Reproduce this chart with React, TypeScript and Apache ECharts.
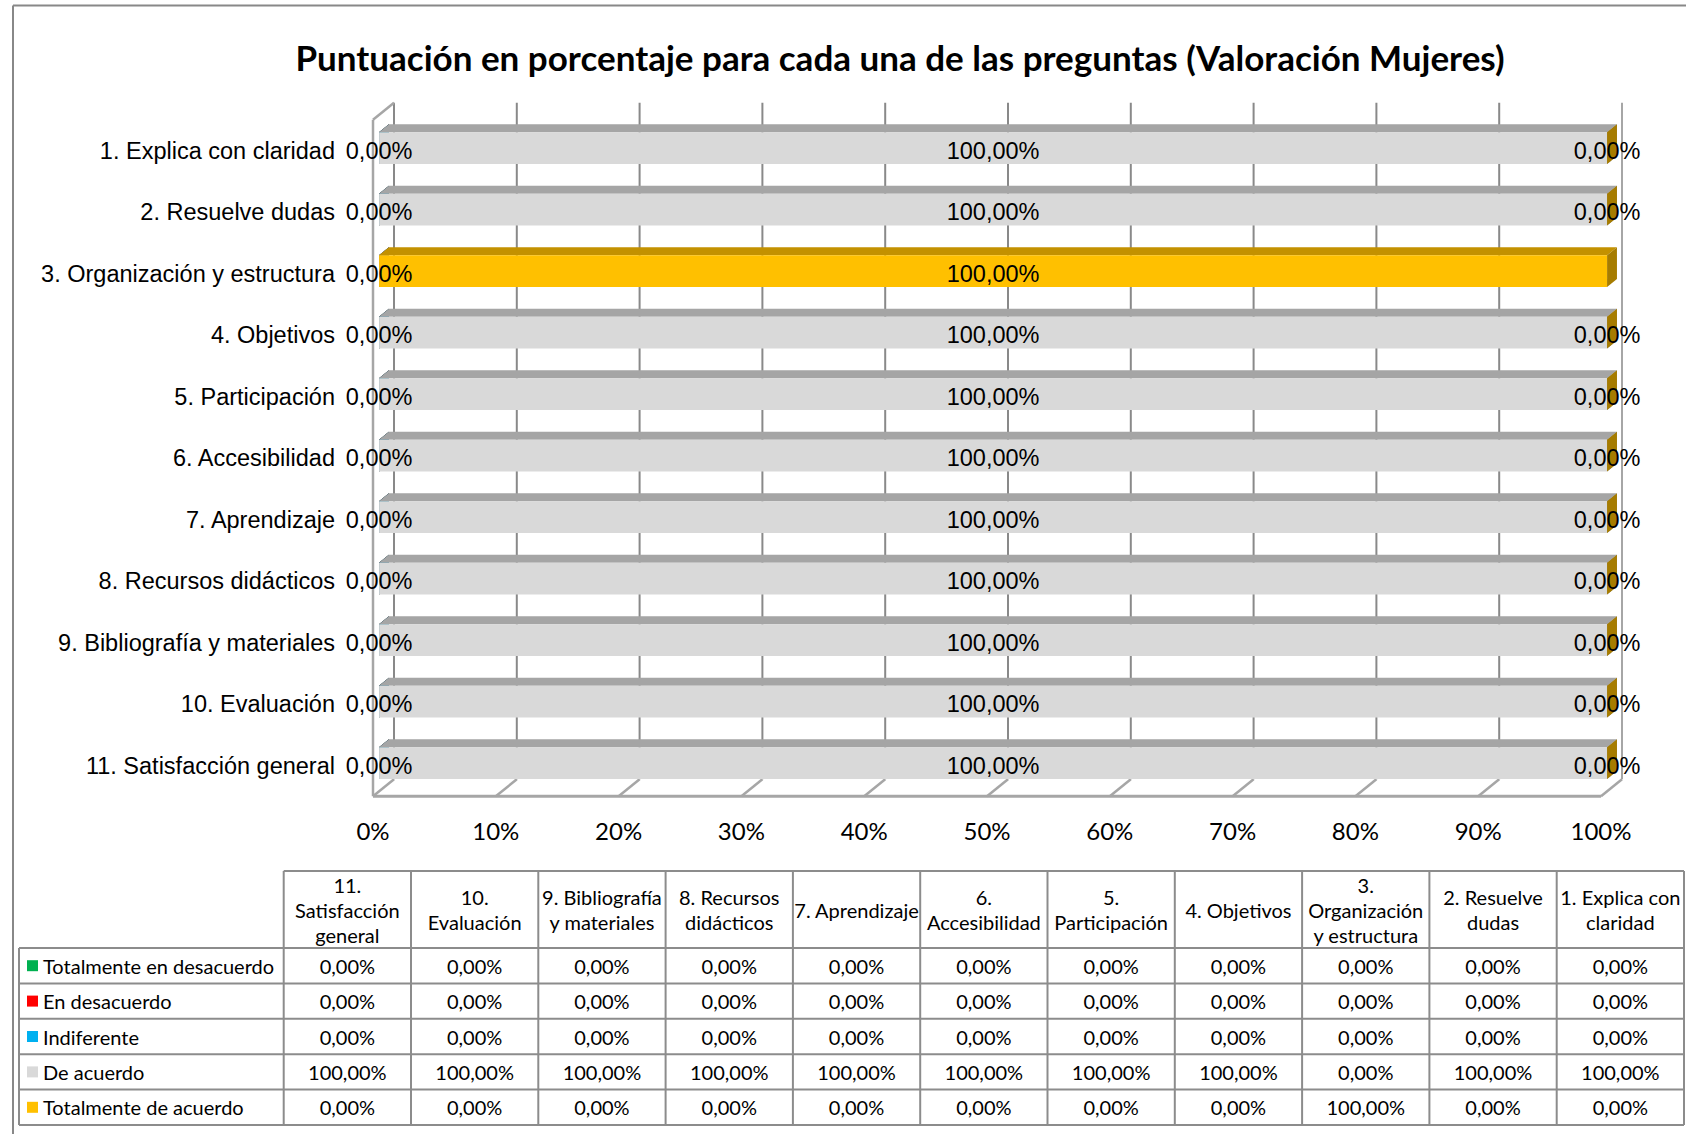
import React, { useEffect, useRef } from "react";
import * as echarts from "echarts";

// ---------- DATA ----------
const categories = [
  "1. Explica con claridad",
  "2. Resuelve dudas",
  "3. Organización y estructura",
  "4. Objetivos",
  "5. Participación",
  "6. Accesibilidad",
  "7. Aprendizaje",
  "8. Recursos didácticos",
  "9. Bibliografía y materiales",
  "10. Evaluación",
  "11. Satisfacción general",
];
// wrapped labels used in the data table header (same order as categories)
const tableHeaderLabels = [
  "1. Explica con\nclaridad",
  "2. Resuelve\ndudas",
  "3.\nOrganización\ny estructura",
  "4. Objetivos",
  "5.\nParticipación",
  "6.\nAccesibilidad",
  "7. Aprendizaje",
  "8. Recursos\ndidácticos",
  "9. Bibliografía\ny materiales",
  "10.\nEvaluación",
  "11.\nSatisfacción\ngeneral",
];
const seriesNames = [
  "Totalmente en desacuerdo",
  "En desacuerdo",
  "Indiferente",
  "De acuerdo",
  "Totalmente de acuerdo",
];
const totalmenteEnDesacuerdo = [0, 0, 0, 0, 0, 0, 0, 0, 0, 0, 0];
const enDesacuerdo = [0, 0, 0, 0, 0, 0, 0, 0, 0, 0, 0];
const indiferente = [0, 0, 0, 0, 0, 0, 0, 0, 0, 0, 0];
const deAcuerdo = [1, 1, 0, 1, 1, 1, 1, 1, 1, 1, 1];
const totalmenteDeAcuerdo = [0, 0, 1, 0, 0, 0, 0, 0, 0, 0, 0];
const seriesValues = [totalmenteEnDesacuerdo, enDesacuerdo, indiferente, deAcuerdo, totalmenteDeAcuerdo];
const xTicks = [0, 0.1, 0.2, 0.3, 0.4, 0.5, 0.6, 0.7, 0.8, 0.9, 1];

// ---------- STYLE ----------
const seriesColors = [
  { front: "#00B050", top: "#008A3E", side: "#006B30" },
  { front: "#FF0000", top: "#C00000", side: "#A00000" },
  { front: "#00B0F0", top: "#0088BB", side: "#006E96" },
  { front: "#D9D9D9", top: "#A5A5A5", side: "#8C8C8C" },
  { front: "#FFC000", top: "#C39100", side: "#A67C00" },
];
const ARIAL = '"Liberation Sans", Arial, sans-serif';
const CALIBRI = 'Lato, "Open Sans", sans-serif';
const DX = 21;
const DY = 17;
const FRONT_DEPTH = 0.29;
const BACK_DEPTH = 0.76;

const fmt = (v: number) => (v * 100).toFixed(2).replace(".", ",") + "%";

// is there an earlier segment in the same category whose label sits at the same spot?
function labelHidden(k: number, cat: number) {
  const startOf = (j: number) => {
    let s = 0;
    for (let m = 0; m < j; m++) s += seriesValues[m][cat];
    return s;
  };
  const mid = (j: number) => startOf(j) + seriesValues[j][cat] / 2;
  for (let j = 0; j < k; j++) {
    if (Math.abs(mid(j) - mid(k)) < 1e-9 && seriesValues[j][cat] === seriesValues[k][cat]) return true;
  }
  return false;
}

function barRender(k: number) {
  const colors = seriesColors[k];
  return (params: any, api: any) => {
    const cat = api.value(0);
    const s = api.value(1);
    const e = api.value(2);
    const p0 = api.coord([s, cat]);
    const p1 = api.coord([e, cat]);
    const band = api.size([0, 1])[1];
    const h = band * 0.515;
    const yT = p0[1] + 2.5 - h / 2;
    const yB = yT + h;
    const fx = DX * FRONT_DEPTH, fy = -DY * FRONT_DEPTH;
    const bx = DX * BACK_DEPTH, by = -DY * BACK_DEPTH;
    const x0 = p0[0], x1 = p1[0];
    return {
      type: "group",
      children: [
        {
          type: "polygon",
          shape: { points: [[x0 + fx, yT + fy], [x1 + fx, yT + fy], [x1 + bx, yT + by], [x0 + bx, yT + by]] },
          style: { fill: colors.top },
        },
        {
          type: "rect",
          shape: { x: x0 + fx, y: yT + fy, width: x1 - x0, height: h },
          style: { fill: colors.front },
        },
        {
          type: "polygon",
          shape: { points: [[x1 + fx, yT + fy], [x1 + bx, yT + by], [x1 + bx, yB + by], [x1 + fx, yB + fy]] },
          style: { fill: colors.side },
        },
        {
          type: "text",
          z2: 100,
          x: (x0 + x1) / 2 + fx,
          y: p0[1],
          style: {
            text: fmt(e - s),
            align: "center",
            verticalAlign: "middle",
            fontSize: 23.5,
            fontFamily: ARIAL,
            fill: "#000",
            opacity: labelHidden(k, cat) ? 0 : 1,
          },
        },
      ],
    };
  };
}

function frameRender(params: any, api: any) {
  const t = api.value(0);
  const cs = params.coordSys;
  const top = cs.y;
  const bottom = cs.y + cs.height;
  const x = api.coord([t, 0])[0];
  const children: any[] = [
    {
      type: "line",
      shape: { x1: x + DX, y1: top - DY, x2: x + DX, y2: bottom - DY },
      style: { stroke: t === 1 ? "#A6A6A6" : "#898989", lineWidth: 2 },
    },
    {
      type: "line",
      shape: { x1: x, y1: bottom, x2: x + DX, y2: bottom - DY },
      style: { stroke: "#A6A6A6", lineWidth: 2.5 },
    },
  ];
  if (params.dataIndex === 0) {
    const xEnd = api.coord([xTicks[xTicks.length - 1], 0])[0];
    children.push(
      { type: "line", shape: { x1: x, y1: top, x2: x, y2: bottom }, style: { stroke: "#A6A6A6", lineWidth: 2.5 } },
      { type: "line", shape: { x1: x, y1: top, x2: x + DX, y2: top - DY }, style: { stroke: "#A6A6A6", lineWidth: 2.5 } },
      { type: "line", shape: { x1: x, y1: bottom, x2: xEnd, y2: bottom }, style: { stroke: "#A6A6A6", lineWidth: 3 } }
    );
  }
  return { type: "group", children };
}

function buildTable() {
  const els: any[] = [];
  const left = 19;
  const colX0 = 283.7;
  const colW = 127.3;
  const hTop = 871;
  const hBot = 948;
  const rowH = 35.4;
  const nCols = categories.length;
  const right = colX0 + colW * nCols;
  const bottom = hBot + rowH * seriesNames.length;
  const stroke = "#8C8C8C";
  const lw = 2;
  els.push({ type: "line", shape: { x1: colX0, y1: hTop, x2: right, y2: hTop }, style: { stroke, lineWidth: lw } });
  for (let r = 0; r <= seriesNames.length; r++) {
    const y = hBot + r * rowH;
    els.push({ type: "line", shape: { x1: left, y1: y, x2: right, y2: y }, style: { stroke, lineWidth: lw } });
  }
  els.push({ type: "line", shape: { x1: left, y1: hBot, x2: left, y2: bottom }, style: { stroke, lineWidth: lw } });
  for (let c = 0; c <= nCols; c++) {
    const x = colX0 + c * colW;
    els.push({ type: "line", shape: { x1: x, y1: hTop, x2: x, y2: bottom }, style: { stroke, lineWidth: lw } });
  }
  const order = categories.map((_, i) => nCols - 1 - i);
  order.forEach((catIdx, c) => {
    els.push({
      type: "text",
      x: colX0 + c * colW + colW / 2,
      y: (hTop + hBot) / 2,
      style: {
        text: tableHeaderLabels[catIdx],
        align: "center",
        verticalAlign: "middle",
        fontSize: 20,
        lineHeight: 25,
        fontFamily: CALIBRI,
        fill: "#000",
      },
    });
  });
  seriesNames.forEach((name, r) => {
    const cy = hBot + r * rowH + rowH / 2;
    els.push({
      type: "rect",
      shape: { x: 27, y: cy - 5.5, width: 11, height: 11 },
      style: { fill: seriesColors[r].front },
    });
    els.push({
      type: "text",
      x: 43,
      y: cy,
      style: { text: name, align: "left", verticalAlign: "middle", fontSize: 20, fontFamily: CALIBRI, fill: "#000" },
    });
    order.forEach((catIdx, c) => {
      els.push({
        type: "text",
        x: colX0 + c * colW + colW / 2,
        y: cy,
        style: {
          text: fmt(seriesValues[r][catIdx]),
          align: "center",
          verticalAlign: "middle",
          fontSize: 20,
          fontFamily: CALIBRI,
          fill: "#000",
        },
      });
    });
  });
  els.push({ type: "line", shape: { x1: 13, y1: 5.5, x2: 13, y2: 1134 }, style: { stroke: "#888888", lineWidth: 2 } });
  els.push({ type: "line", shape: { x1: 13, y1: 5.5, x2: 1686, y2: 5.5 }, style: { stroke: "#888888", lineWidth: 2 } });
  return els;
}

function buildOption() {
  const barSeries = seriesNames.map((name, k) => {
    const data = categories.map((_, i) => {
      let start = 0;
      for (let j = 0; j < k; j++) start += seriesValues[j][i];
      return [i, start, start + seriesValues[k][i]];
    });
    return {
      type: "custom",
      name,
      z: 3,
      renderItem: barRender(k),
      encode: { x: [1, 2], y: 0 },
      data,
    };
  });
  return {
    animation: false,
    backgroundColor: "#ffffff",
    title: {
      text: "Puntuación en porcentaje para cada una de las preguntas (Valoración Mujeres)",
      left: 895,
      top: 34,
      textAlign: "center",
      textStyle: { fontFamily: CALIBRI, fontWeight: "bold", fontSize: 35, color: "#000" },
    },
    grid: { left: 373, right: 85, top: 119.8, bottom: 337.7, containLabel: false, outerBoundsMode: "none" },
    xAxis: {
      type: "value",
      min: 0,
      max: 1,
      interval: 0.1,
      axisLine: { show: false },
      axisTick: { show: false },
      splitLine: { show: false },
      axisLabel: {
        margin: 22,
        formatter: (v: number) => Math.round(v * 100) + "%",
        fontFamily: CALIBRI,
        fontSize: 24,
        color: "#000",
      },
    },
    yAxis: {
      type: "category",
      inverse: true,
      data: categories,
      axisLine: { show: false },
      axisTick: { show: false },
      splitLine: { show: false },
      axisLabel: { margin: 38, fontFamily: ARIAL, fontSize: 23.5, color: "#000" },
    },
    series: [
      {
        type: "custom",
        name: "frame",
        z: 1,
        silent: true,
        renderItem: frameRender,
        encode: { x: 0, y: 1 },
        data: xTicks.map((t) => [t, 0]),
      },
      ...barSeries,
    ],
    graphic: { elements: buildTable() },
  };
}

export default function App() {
  const ref = useRef<HTMLDivElement>(null);
  useEffect(() => {
    const chart = echarts.init(ref.current as HTMLDivElement, null, { renderer: "svg" });
    chart.setOption(buildOption() as any);
    return () => chart.dispose();
  }, []);
  return (
    <div
      ref={ref}
      style={{ position: "absolute", left: 0, top: 0, width: 1686, height: 1134, background: "#fff" }}
    />
  );
}
